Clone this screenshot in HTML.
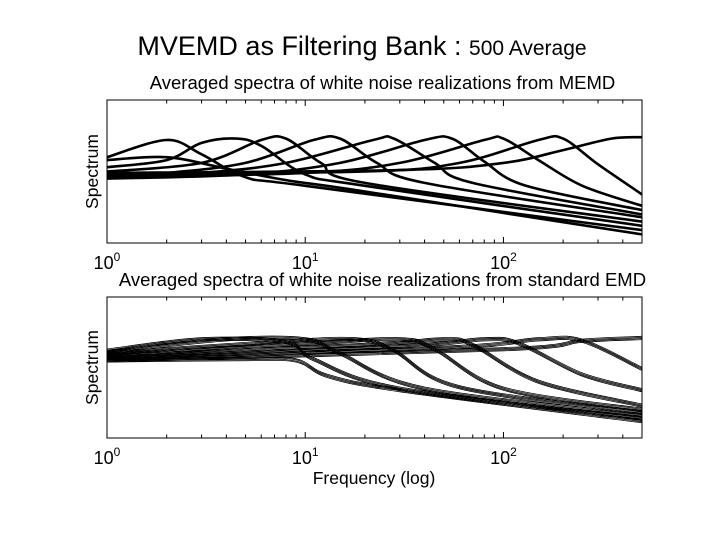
<!DOCTYPE html>
<html><head><meta charset="utf-8"><style>
body{margin:0;background:#fff;width:720px;height:540px;overflow:hidden;font-family:"Liberation Sans",sans-serif}
#main-title{position:absolute;left:0;width:724px;top:31px;text-align:center;font-size:27px;color:#000}
#main-title span{font-size:21px}
svg{position:absolute;left:0;top:0}
</style></head><body>
<div id="main-title">MVEMD as Filtering Bank : <span>500 Average</span></div>
<svg id="chart" width="720" height="540"></svg>
<script>
const xTicks=[1,10,100];
const xTickExp=["0","1","2"];
const xMin=1, xMax=500;
const memdCurves=[
 [[1,4.9],[30,5.1],[100,5.6],[200,6.5],[350,7.3],[500,7.4]],
 [[1,4.8],[20,5.0],[60,5.6],[150,7.2],[200,7.3],[300,5.5],[500,3.4]],
 [[1,4.6],[10,4.9],[30,5.6],[80,7.2],[100,7.3],[150,5.8],[250,4.0],[500,2.6]],
 [[1,4.5],[5,4.8],[15,5.6],[40,7.2],[55,7.3],[80,5.7],[130,4.0],[500,2.3]],
 [[1,4.6],[3,4.9],[8,5.6],[22,7.2],[28,7.3],[45,5.6],[70,4.2],[500,2.0]],
 [[1,4.7],[2,4.9],[5,5.6],[11,7.2],[15,7.3],[23,5.6],[40,4.2],[500,1.8]],
 [[1,5.0],[3,5.6],[6,7.2],[8,7.3],[12,5.6],[20,4.2],[500,1.5]],
 [[1,5.3],[2,5.8],[3,7.0],[4.5,7.3],[6,6.8],[10,4.8],[20,4.0],[500,1.2]],
 [[1,6.0],[2,7.2],[3,6.2],[5,4.6],[10,4.0],[500,0.9]],
 [[1,5.8],[2,6.0],[4,5.2],[8,4.4],[20,3.6],[500,0.6]]
];
const emdCurves=[
 [[1,5.5],[100,6.3],[250,6.9],[500,7.1]],
 [[1,5.6],[50,6.4],[150,7.0],[250,6.9],[500,4.9]],
 [[1,5.7],[30,6.5],[80,7.0],[120,6.7],[250,4.5],[500,3.4]],
 [[1,5.8],[20,6.6],[50,7.0],[70,6.6],[150,4.0],[500,2.3]],
 [[1,5.9],[10,6.7],[30,7.0],[45,6.3],[100,3.5],[500,2.0]],
 [[1,6.0],[7,6.8],[18,7.0],[28,6.2],[60,3.6],[500,1.8]],
 [[1,6.1],[4,7.0],[10,7.0],[15,6.0],[40,3.5],[500,1.6]],
 [[1,6.2],[3,7.0],[8,6.8],[11,5.6],[30,3.5],[500,1.4]],
 [[1,5.5],[5,5.6],[9,5.5],[13,4.4],[30,3.4],[500,1.2]]
];
const NS='http://www.w3.org/2000/svg';
const svg=document.getElementById('chart');
function mk(t,a,p){const e=document.createElementNS(NS,t);for(const k in a)e.setAttribute(k,a[k]);(p||svg).appendChild(e);return e;}
function catmull(pts){let d='M'+pts[0][0].toFixed(1)+','+pts[0][1].toFixed(1);
 for(let i=0;i<pts.length-1;i++){const p0=pts[i-1]||pts[i],p1=pts[i],p2=pts[i+1],p3=pts[i+2]||p2;
  const c1=[p1[0]+(p2[0]-p0[0])/6,p1[1]+(p2[1]-p0[1])/6],c2=[p2[0]-(p3[0]-p1[0])/6,p2[1]-(p3[1]-p1[1])/6];
  d+='C'+c1.map(v=>v.toFixed(1))+' '+c2.map(v=>v.toFixed(1))+' '+p2[0].toFixed(1)+','+p2[1].toFixed(1);}
 return d;}
function panel(cfg){
 const {L,R,T,B,title,curves,name,thick}=cfg;
 const xs=f=>L+(Math.log10(f)-Math.log10(xMin))/(Math.log10(xMax)-Math.log10(xMin))*(R-L);
 const ys=v=>B-v/10*(B-T);
 const g=mk('g',{});
 
 
 const t=mk('text',{x:(L+R)/2+8,y:T-11,'text-anchor':'middle','font-size':18.5,'font-family':'Liberation Sans, sans-serif'},g);
 t.textContent=title;
 
 
 const cp=mk('clipPath',{id:name+'-clip'},g);mk('rect',{x:L,y:T,width:R-L,height:B-T},cp);
 const lines=mk('g',{'clip-path':'url(#'+name+'-clip)'},g);
 curves.forEach((c,i)=>{
  const offs=thick?[0]:[-1.6,-0.5,0.6,1.7];
  offs.forEach(o=>{
   const p=mk('path',{d:catmull(c.map(q=>[xs(q[0]),ys(q[1])+o])),fill:'none',stroke:'#000','stroke-width':thick?2.6:0.8},lines);
   
   
  });
 });
 const box=mk('rect',{x:L,y:T,width:R-L,height:B-T,fill:'none',stroke:'#000','stroke-width':1},g);
 
 
 for(let dec=1;dec<=100;dec*=10){for(let m=1;m<10;m++){const f=dec*m;if(f>xMax)break;const x=xs(f);const len=m===1?6:3.5;
  mk('line',{x1:x,x2:x,y1:B,y2:B-len,stroke:'#000','stroke-width':1},g);
  mk('line',{x1:x,x2:x,y1:T,y2:T+len,stroke:'#000','stroke-width':1},g);}}
 xTicks.forEach((f,i)=>{const tx=mk('text',{x:xs(f),y:B+26,'text-anchor':'middle','font-size':18,'font-family':'Liberation Sans, sans-serif'},g);
  
  
  tx.innerHTML='10<tspan dy="-8" font-size="12">'+xTickExp[i]+'</tspan>';});
 const yl=mk('text',{x:0,y:0,transform:'translate(98,'+((T+B)/2)+') rotate(-90)','text-anchor':'middle','font-size':17.5,'font-family':'Liberation Sans, sans-serif'},g);
 yl.textContent='Spectrum';
 
 
}
panel({L:107,R:642,T:100,B:243,title:'Averaged spectra of white noise realizations from MEMD',curves:memdCurves,name:'memd-panel',thick:true});
panel({L:107,R:642,T:297,B:438,title:'Averaged spectra of white noise realizations from standard EMD',curves:emdCurves,name:'emd-panel',thick:false});
const xl=mk('text',{x:374,y:484,'text-anchor':'middle','font-size':17.5,'font-family':'Liberation Sans, sans-serif'});
xl.textContent='Frequency (log)';


</script>
</body></html>
